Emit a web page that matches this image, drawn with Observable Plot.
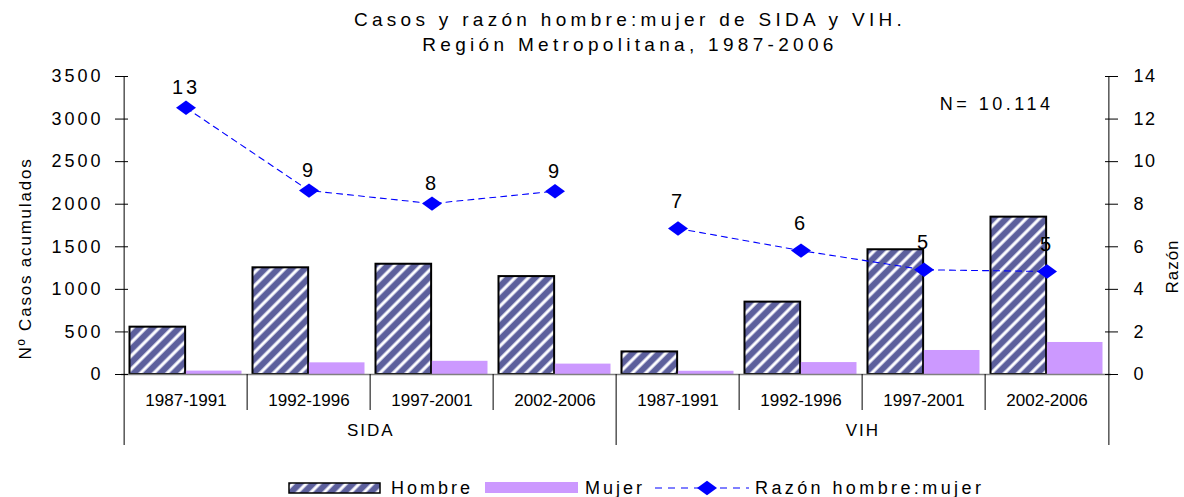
<!DOCTYPE html>
<html><head><meta charset="utf-8">
<script src="https://cdn.jsdelivr.net/npm/d3@7"></script>
<script src="https://cdn.jsdelivr.net/npm/@observablehq/plot@0.6"></script>
<style>
html,body{margin:0;padding:0;background:#fff;}
#wrap{position:relative;width:1184px;height:497px;overflow:hidden;font-family:"Liberation Sans",Arial,Helvetica,sans-serif;color:#000;}
#title{position:absolute;left:130px;width:1000px;top:7px;text-align:center;font-size:19px;line-height:25px;letter-spacing:4.3px;}
#chart{position:absolute;left:0;top:55px;}
.lg{position:absolute;font-size:18px;letter-spacing:3px;line-height:20px;top:478px;white-space:nowrap;}
.sw{position:absolute;}
g[aria-label="y-axis tick label"][text-anchor="end"] text{letter-spacing:3px;}
g[aria-label="y-axis tick label"][text-anchor="start"] text{letter-spacing:1.5px;}
</style></head><body>
<div id="wrap">
 <div id="title"></div>
 <div id="chart"></div>
 <div id="legend"></div>
</div>
<script>
const titleLines = ["Casos y razón hombre:mujer de SIDA y VIH.", "Región Metropolitana, 1987-2006"];
const groups = ["SIDA","SIDA","SIDA","SIDA","VIH","VIH","VIH","VIH"];
const periods = ["1987-1991","1992-1996","1997-2001","2002-2006","1987-1991","1992-1996","1997-2001","2002-2006"];
const hombre = [556,1253,1295,1150,265,850,1465,1848];
const mujer = [40,137,155,122,38,140,282,376];
const razon = [12.53,8.64,8.03,8.61,6.86,5.82,4.92,4.84];
const razonLabels = ["13","9","8","9","7","6","5","5"];
const groupNames = ["SIDA","VIH"];
const seriesNames = ["Hombre","Mujer","Razón hombre:mujer"];
const leftTicks = [0,500,1000,1500,2000,2500,3000,3500];
const rightTicks = [0,2,4,6,8,10,12,14];
const annotation = "N= 10.114";
const yTitleLeft = "Nº Casos acumulados";
const yTitleRight = "Razón";

const colHombre = "#5c5f9c", colMujer = "#cc99ff", colRazon = "#0000ff";

const W=1184,H=400,mL=121,mR=73,mT=21,mB=81;
const yMax=3500, rMax=14, k=yMax/rMax;
const bw=(W-mL-mR)/periods.length;
const pad=5.5, barW=(bw-2*pad)/2;

const cats = periods.map((p,i)=>groups[i]+"|"+p);
const rows = cats.map((c,i)=>({cat:c,group:groups[i],period:periods[i],hombre:hombre[i],mujer:mujer[i],razon:razon[i]*k,label:razonLabels[i]}));

const diamond = {draw(ctx,size){const r=Math.sqrt(size/Math.PI);const h=r*0.72;ctx.moveTo(-r,0);ctx.lineTo(0,-h);ctx.lineTo(r,0);ctx.lineTo(0,h);ctx.closePath();}};
const hline = {draw(ctx,size){const r=Math.sqrt(size/Math.PI);ctx.moveTo(-r,0);ctx.lineTo(r,0);}};

const innerCats = cats.filter((c,i)=> i>0 && groups[i]===groups[i-1]);
const midStarts = cats.filter((c,i)=> i>0 && groups[i]!==groups[i-1]);
const groupMid = groupNames.map(g=>{const idx=groups.indexOf(g);const n=groups.filter(x=>x===g).length;return {g, cat:cats[idx+n/2-1]};});

document.getElementById("title").innerHTML = titleLines.map(t=>`<div>${t}</div>`).join("");

const chart = Plot.plot({
  width: W, height: H, marginLeft: mL, marginRight: mR, marginTop: mT, marginBottom: mB,
  style: {fontFamily: '"Liberation Sans", Arial, sans-serif', fontSize: "18px", background: "white", color: "black", overflow: "visible"},
  x: {type: "band", domain: cats, padding: 0},
  y: {domain: [0, yMax]},
  marks: [
    Plot.barY(rows, {x: "cat", y: "hombre", fill: "url(#hatchH)", stroke: "black", strokeWidth: 2, insetLeft: pad, insetRight: pad + barW}),
    Plot.barY(rows, {x: "cat", y: "mujer", fill: colMujer, insetLeft: pad + barW, insetRight: pad}),
    Plot.ruleY([0], {stroke: "#808080", strokeWidth: 1.5}),
    Plot.line(rows, {x: "cat", y: "razon", z: "group", stroke: colRazon, strokeWidth: 1.1, strokeDasharray: "6,5"}),
    Plot.dot(rows, {x: "cat", y: "razon", symbol: diamond, r: 10, fill: colRazon, stroke: "none"}),
    Plot.text(rows.filter(d=>d.group===groupNames[0]), {x: "cat", y: "razon", text: "label", dy: -20, fontSize: 20, fill: "black"}),
    Plot.text(rows.filter(d=>d.group===groupNames[1]), {x: "cat", y: "razon", text: "label", dy: -27, fontSize: 20, fill: "black"}),
    // axes
    Plot.axisY({anchor: "left", ticks: leftTicks, tickSize: 0, tickPadding: 18, tickFormat: d=>String(d), label: null, fontSize: 18}),
    Plot.axisY({anchor: "right", ticks: rightTicks.map(v=>v*k), tickSize: 0, tickPadding: 22, tickFormat: d=>String(d/k), label: null, fontSize: 18}),
    Plot.dot(leftTicks, {y: d=>d, frameAnchor: "left", symbol: hline, r: 6.5, stroke: "black", fill: "none", strokeWidth: 1}),
    Plot.dot(rightTicks, {y: d=>d*k, frameAnchor: "right", symbol: hline, r: 6.5, stroke: "black", fill: "none", strokeWidth: 1}),
    Plot.axisX({tickSize: 0, tickPadding: 19, tickFormat: d=>d.split("|")[1], label: null, fontSize: 17}),
    // axis lines and category dividers
    Plot.ruleX([cats[0]], {x: d=>d, dx: -bw/2, y1: yMax, y2: 0, insetBottom: -71, stroke: "black"}),
    Plot.ruleX([cats[cats.length-1]], {x: d=>d, dx: bw/2, y1: yMax, y2: 0, insetBottom: -71, stroke: "black"}),
    Plot.ruleX(midStarts, {x: d=>d, dx: -bw/2, y1: 0, y2: 0, insetBottom: -71, stroke: "black"}),
    Plot.ruleX(innerCats, {x: d=>d, dx: -bw/2, y1: 0, y2: 0, insetBottom: -36, stroke: "black"}),
    Plot.text(groupMid, {x: "cat", dx: bw/2, frameAnchor: "bottom", dy: 61, text: "g", fontSize: 17}),
    // titles and annotation
    Plot.text([annotation], {text: d=>d, frameAnchor: "top-right", dx: -58, dy: 21, textAnchor: "end", fontSize: 18}),
    Plot.text([yTitleLeft], {text: d=>d, frameAnchor: "left", textAnchor: "middle", rotate: -90, dx: -96, dy: 33, fontSize: 17}),
    Plot.text([yTitleRight], {text: d=>d, frameAnchor: "right", textAnchor: "middle", rotate: -90, dx: 61, dy: 41, fontSize: 17})
  ]
});

const svg = d3.select(chart);
// letter spacing to mimic the stretched type of the original
const spacing = new Map([...razonLabels.map(l=>[l,"3px"]), [annotation,"3.5px"], ...groupNames.map(g=>[g,"2px"]), [yTitleLeft,"1.8px"], [yTitleRight,"1px"]]);
svg.selectAll('g[aria-label="text"] text').each(function(){const s=spacing.get(this.textContent); if (s) this.setAttribute("letter-spacing", s);});

// hatch pattern for "Hombre"
const defs = svg.insert("defs", ":first-child");
const pat = defs.append("pattern").attr("id", "hatchH").attr("patternUnits", "userSpaceOnUse")
  .attr("width", 9.4).attr("height", 9.4).attr("patternTransform", "rotate(-45)");
pat.append("rect").attr("width", 9.4).attr("height", 9.4).attr("fill", colHombre);
pat.append("rect").attr("y", 2.8).attr("width", 9.4).attr("height", 3.8).attr("fill", "#a9abd2");
pat.append("rect").attr("y", 3.5).attr("width", 9.4).attr("height", 2.4).attr("fill", "#ffffff");

document.getElementById("chart").appendChild(chart);

// legend
const lg = document.getElementById("legend");
lg.innerHTML = `
<svg class="sw" style="left:288px;top:482px" width="93" height="12"><rect x="1" y="1" width="91" height="10" fill="url(#hatchH)" stroke="black" stroke-width="1.5"/></svg>
<div class="lg" style="left:391px">${seriesNames[0]}</div>
<svg class="sw" style="left:485px;top:482px" width="93" height="11"><rect x="0" y="0" width="93" height="11" fill="${colMujer}"/></svg>
<div class="lg" style="left:585px">${seriesNames[1]}</div>
<svg class="sw" style="left:655px;top:479px" width="94" height="18"><line x1="0" x2="94" y1="9" y2="9" stroke="${colRazon}" stroke-width="1.2" stroke-dasharray="7,6"/><path d="M42,9L52,1.8L62,9L52,16.2Z" fill="${colRazon}"/></svg>
<div class="lg" style="left:755px;letter-spacing:3.4px">${seriesNames[2]}</div>`;
</script>
</body></html>
